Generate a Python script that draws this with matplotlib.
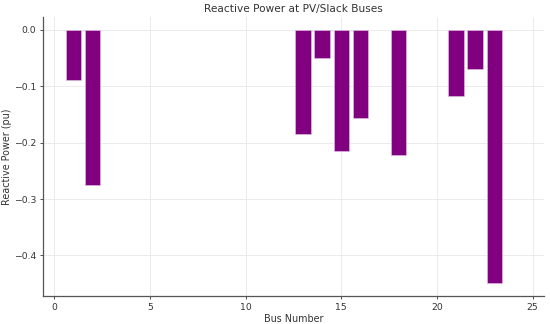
import matplotlib
matplotlib.use("Agg")
import matplotlib.pyplot as plt

buses = [1, 2, 13, 14, 15, 16, 18, 21, 22, 23]
reactive_power = [-0.088, -0.275, -0.184, -0.050, -0.214, -0.157, -0.221, -0.117, -0.069, -0.449]
x_ticks = [0, 5, 10, 15, 20, 25]
y_ticks = [0.0, -0.1, -0.2, -0.3, -0.4]

W, H = 550, 324
fig = plt.figure(figsize=(W/100, H/100), dpi=100)
left, right, top, bottom = 42.7, 544, 17.3, 296.3
ax = fig.add_axes([left/W, 1-bottom/H, (right-left)/W, (bottom-top)/H])
ax.bar(buses, reactive_power, width=0.8, color="#800080", edgecolor="#e4c4e4", linewidth=0.4, zorder=3)
ax.set_xlim(-0.6, 25.6)
ax.set_ylim(-0.4725, 0.0225)
ax.set_xticks(x_ticks)
ax.set_yticks(y_ticks)
ax.grid(True, color="#e8e8e8", linewidth=0.6, zorder=0)
for s in ["top", "right"]:
    ax.spines[s].set_visible(False)
for s in ["left", "bottom"]:
    ax.spines[s].set_color("#555555")
    ax.spines[s].set_linewidth(0.9)
ax.tick_params(labelsize=6.7, colors="#333333", length=2.5, width=0.6, pad=2)
ax.set_title("Reactive Power at PV/Slack Buses", fontsize=7.6, color="#333333", pad=4)
ax.set_xlabel("Bus Number", fontsize=6.9, color="#333333", labelpad=2)
ax.set_ylabel("Reactive Power (pu)", fontsize=6.9, color="#333333", labelpad=1.5)
fig.savefig("out.png", dpi=100)
